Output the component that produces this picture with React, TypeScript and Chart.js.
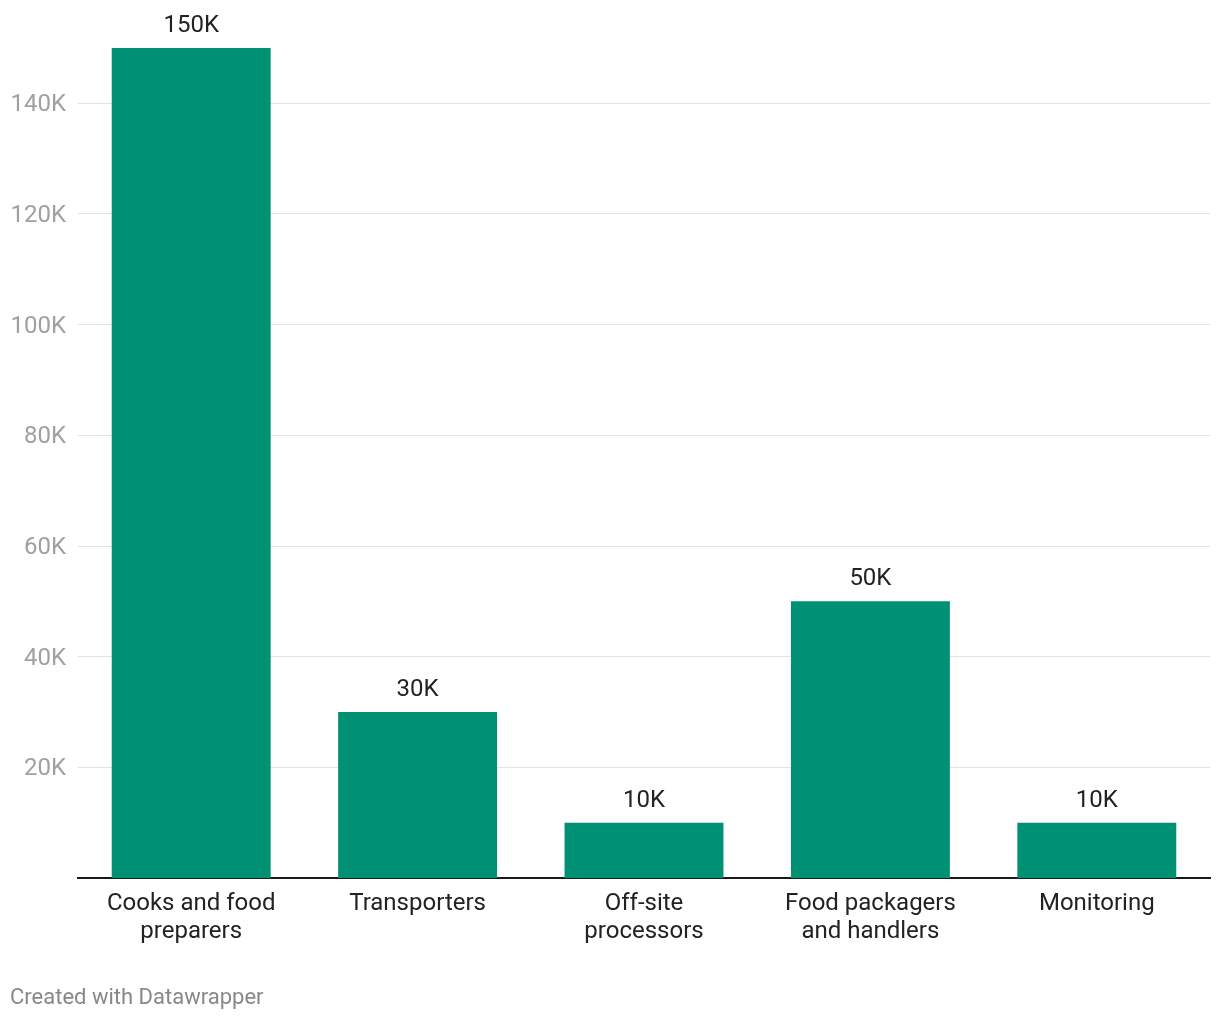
import React, { useEffect, useRef } from "react";
import { Chart, registerables } from "chart.js";

Chart.register(...registerables);

const categories: string[][] = [
  ["Cooks and food", "preparers"],
  ["Transporters"],
  ["Off-site", "processors"],
  ["Food packagers", "and handlers"],
  ["Monitoring"],
];
const values: number[] = [150000, 30000, 10000, 50000, 10000];
const valueLabels: string[] = ["150K", "30K", "10K", "50K", "10K"];
const yTicks: number[] = [20000, 40000, 60000, 80000, 100000, 120000, 140000];

const FONT = "Roboto";

const valueLabelPlugin = {
  id: "valueLabels",
  afterDatasetsDraw(chart: any) {
    const ctx = chart.ctx;
    const meta = chart.getDatasetMeta(0);
    ctx.save();
    ctx.font = `24px ${FONT}`;
    ctx.fillStyle = "#222222";
    ctx.textAlign = "center";
    ctx.textBaseline = "middle";
    meta.data.forEach((bar: any, i: number) => {
      ctx.fillText(valueLabels[i], bar.x, bar.y - 22);
    });
    ctx.restore();
  },
};

export default function App() {
  const ref = useRef<HTMLCanvasElement | null>(null);
  useEffect(() => {
    if (!ref.current) return;
    const chart = new Chart(ref.current, {
      type: "bar",
      data: {
        labels: categories,
        datasets: [
          {
            data: values,
            backgroundColor: "#009073",
            barPercentage: 0.702,
            categoryPercentage: 1,
          },
        ],
      },
      options: {
        animation: false,
        responsive: false,
        devicePixelRatio: 1,
        layout: { padding: { top: 48, right: 10, left: 0, bottom: 0 } },
        plugins: { legend: { display: false }, tooltip: { enabled: false } },
        scales: {
          x: {
            grid: { display: false, drawTicks: false },
            border: { display: true, color: "#1a1a1a", width: 2 },
            ticks: {
              font: { family: FONT, size: 24, lineHeight: 1.17 },
              color: "#222222",
              padding: 12,
              maxRotation: 0,
              autoSkip: false,
            },
            afterFit(scale: any) {
              scale.height = 142;
            },
          },
          y: {
            min: 0,
            max: 150000,
            grid: { color: "#e2e2e2", lineWidth: 1, drawTicks: false },
            border: { display: false },
            ticks: {
              font: { family: FONT, size: 24 },
              color: "#a0a0a0",
              padding: 12,
              labelOffset: 2,
              callback: (v: any) => `${Number(v) / 1000}K`,
            },
            afterBuildTicks(scale: any) {
              scale.ticks = yTicks.map((v) => ({ value: v }));
            },
            afterFit(scale: any) {
              scale.width = 78;
            },
          },
        },
      },
      plugins: [valueLabelPlugin],
    });
    return () => chart.destroy();
  }, []);

  return (
    <div style={{ position: "absolute", left: 0, top: 0, width: 1220, height: 1020, background: "#fff" }}>
      <canvas ref={ref} width={1220} height={1020} style={{ width: 1220, height: 1020, display: "block" }} />
      <div
        style={{
          position: "absolute",
          left: 10,
          top: 983,
          fontFamily: FONT,
          fontSize: 22,
          color: "#888888",
          lineHeight: "28px",
        }}
      >
        Created with Datawrapper
      </div>
    </div>
  );
}
